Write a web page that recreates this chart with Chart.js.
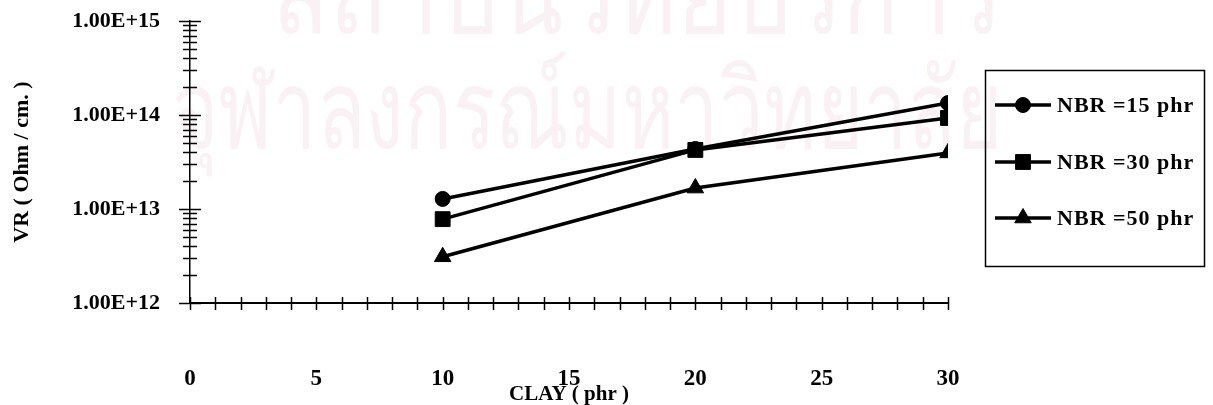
<!DOCTYPE html>
<html>
<head>
<meta charset="utf-8">
<script src="https://cdn.jsdelivr.net/npm/chart.js@4.4.0/dist/chart.umd.min.js"></script>
<style>
  html, body { margin: 0; padding: 0; background: #fff; }
  #wrap { width: 1213px; height: 405px; }
</style>
</head>
<body>
<div id="wrap"><canvas id="c"></canvas></div>
<script>
const clay = [10, 20, 30];
const nbr15 = [1.28e13, 4.35e13, 1.34e14];
const nbr30 = [7.8e12, 4.25e13, 9.3e13];
const nbr50 = [3.1e12, 1.67e13, 3.95e13];
const seriesLabels = ['NBR =15 phr', 'NBR =30 phr', 'NBR =50 phr'];
const xTickLabels = ['0', '5', '10', '15', '20', '25', '30'];
const yMajorTicks = [1e12, 1e13, 1e14, 1e15];
const yTickLabels = ['1.00E+12', '1.00E+13', '1.00E+14', '1.00E+15'];
const watermark = ['สถาบันวิทยบริการ', 'จุฬาลงกรณ์มหาวิทยาลัย'];

const SERIF = "'Liberation Serif', 'Times New Roman', serif";

// faint scanned watermark behind the chart
const watermarkPlugin = {
    id: 'watermark',
    beforeDraw(chart) {
        const ctx = chart.ctx;
        ctx.save();
        ctx.fillStyle = '#faf1f5';
        ctx.textBaseline = 'alphabetic';
        ctx.font = "110px 'Noto Sans', 'DejaVu Sans', sans-serif";
        ctx.fillText(watermark[0], 272, 33, 730);
        ctx.fillText(watermark[1], 172, 148, 830);
        ctx.restore();
    },
};

// Excel-style tick marks that cross the axis lines
const crossTicks = {
    id: 'crossTicks',
    beforeDatasetsDraw(chart) {
        const { ctx, chartArea: a, scales: { x, y } } = chart;
        ctx.save();
        ctx.strokeStyle = '#000';
        ctx.lineWidth = 1.5;
        y.ticks.forEach(t => {
            const py = Math.round(y.getPixelForValue(t.value)) + 0.5;
            const h = yMajorTicks.includes(t.value) ? 11 : 7;
            ctx.beginPath();
            ctx.moveTo(a.left - h, py);
            ctx.lineTo(a.left + h, py);
            ctx.stroke();
        });
        x.ticks.forEach(t => {
            const px = Math.round(x.getPixelForValue(t.value)) + 0.5;
            ctx.beginPath();
            ctx.moveTo(px, a.bottom - 6);
            ctx.lineTo(px, a.bottom + 7);
            ctx.stroke();
        });
        ctx.restore();
    },
};

// boxed legend on the right
const boxLegend = {
    id: 'boxLegend',
    afterDraw(chart) {
        const ctx = chart.ctx;
        const rows = [105, 162, 218];
        ctx.save();
        ctx.strokeStyle = '#000';
        ctx.lineWidth = 1.5;
        ctx.strokeRect(985.5, 70.5, 219, 196);
        chart.data.datasets.forEach((ds, i) => {
            const yy = rows[i];
            ctx.strokeStyle = '#000';
            ctx.lineWidth = 3.5;
            ctx.beginPath();
            ctx.moveTo(995, yy);
            ctx.lineTo(1051, yy);
            ctx.stroke();
            ctx.fillStyle = '#000';
            ctx.lineWidth = 1;
            Chart.helpers.drawPoint(ctx, {
                pointStyle: ds.pointStyle, radius: ds.pointRadius, borderWidth: 1, rotation: 0,
            }, 1023, yy);
            ctx.fillStyle = '#000';
            ctx.font = 'bold 22px ' + SERIF;
            ctx.letterSpacing = '1px';
            ctx.textBaseline = 'middle';
            ctx.fillText(ds.label, 1057, yy + 1);
            ctx.letterSpacing = '0px';
        });
        ctx.restore();
    },
};

const mkSet = (label, data, style) => ({
    label,
    data: clay.map((c, i) => ({ x: c, y: data[i] })),
    borderColor: '#000',
    backgroundColor: '#000',
    borderWidth: 3.5,
    pointStyle: style,
    pointRadius: style === 'circle' ? 7.5 : (style === 'rect' ? 10.5 : 9.5),
    pointBorderWidth: 1,
    tension: 0,
});

new Chart(document.getElementById('c'), {
    type: 'line',
    data: {
        datasets: [
            mkSet(seriesLabels[0], nbr15, 'circle'),
            mkSet(seriesLabels[1], nbr30, 'rect'),
            mkSet(seriesLabels[2], nbr50, 'triangle'),
        ],
    },
    options: {
        responsive: true,
        maintainAspectRatio: false,
        animation: false,
        layout: { padding: { left: 0, top: 0, right: 265, bottom: 0 } },
        plugins: {
            legend: { display: false },
            tooltip: { enabled: false },
        },
        scales: {
            x: {
                type: 'linear',
                min: 0, max: 30,
                grid: { display: false, drawTicks: false },
                border: { display: true, color: '#000', width: 2 },
                afterFit: s => { s.height = 102; },
                ticks: {
                    stepSize: 1,
                    autoSkip: false,
                    maxRotation: 0,
                    padding: 62,
                    color: '#000',
                    font: { family: SERIF, size: 23, weight: 'bold' },
                    callback: v => (v % 5 === 0 ? xTickLabels[v / 5] : ''),
                },
                title: {
                    display: true,
                    text: 'CLAY ( phr )',
                    color: '#000',
                    font: { family: SERIF, size: 21, weight: 'bold', lineHeight: 1 },
                    padding: { top: 0, bottom: 0 },
                },
            },
            y: {
                type: 'logarithmic',
                min: 1e12, max: 1e15,
                grid: { display: false, drawTicks: false },
                border: { display: true, color: '#000', width: 1.5 },
                afterFit: s => {
                    s.width = 190;
                    s.paddingTop = 21;
                    s.paddingBottom = 0;
                },
                afterBuildTicks: s => {
                    const ticks = [];
                    yMajorTicks.forEach((m, i) => {
                        ticks.push({ value: m });
                        if (i < yMajorTicks.length - 1) {
                            for (let k = 2; k <= 9; k++) ticks.push({ value: m * k });
                        }
                    });
                    s.ticks = ticks;
                },
                ticks: {
                    autoSkip: false,
                    padding: 30,
                    color: '#000',
                    font: { family: SERIF, size: 22, weight: 'bold' },
                    callback: v => {
                        const i = yMajorTicks.indexOf(v);
                        return i >= 0 ? yTickLabels[i] : '';
                    },
                },
                title: {
                    display: true,
                    text: 'VR ( Ohm / cm. )',
                    color: '#000',
                    font: { family: SERIF, size: 22, weight: 'bold', lineHeight: 1.2 },
                    padding: { top: 9, bottom: 0 },
                },
            },
        },
    },
    plugins: [watermarkPlugin, crossTicks, boxLegend],
});
</script>
</body>
</html>
